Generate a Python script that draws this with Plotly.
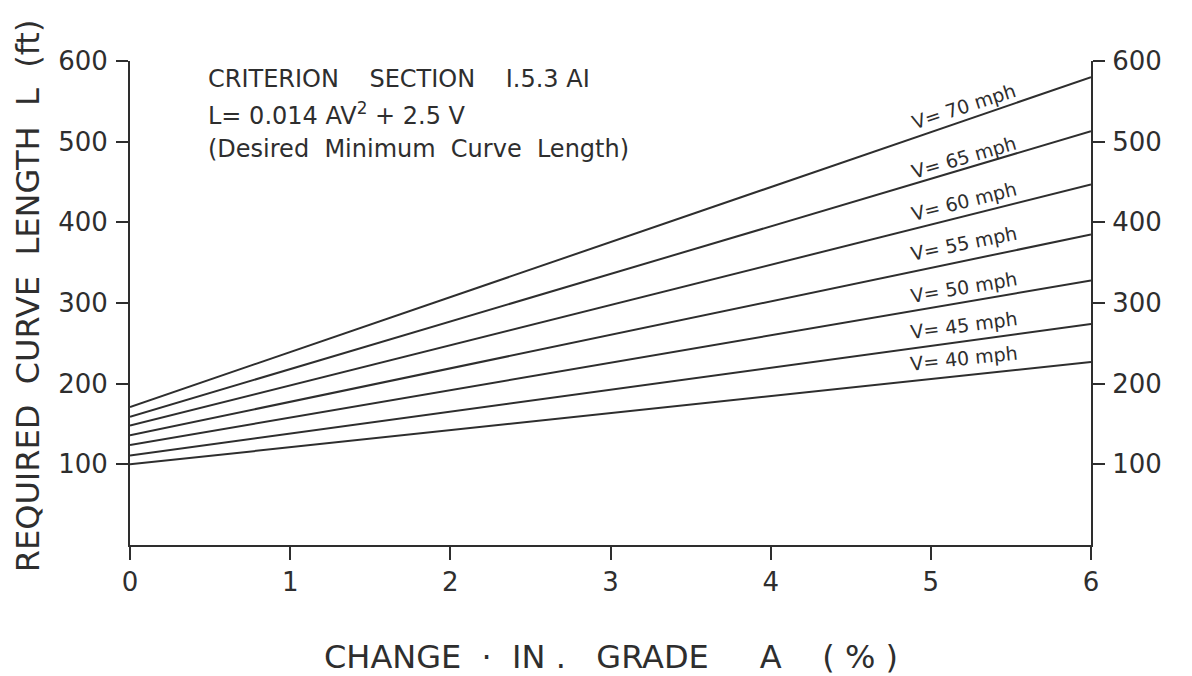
import plotly.graph_objects as go

# ---- data ----
grade_change = [0, 6]                       # A (%)
speeds = [70, 65, 60, 55, 50, 45, 40]       # V (mph)
length_at_0 = [171, 159, 148, 136, 124, 111, 100]   # L (ft) at A = 0
length_at_6 = [580, 513, 447, 385, 328, 274, 227]   # L (ft) at A = 6
label_texts = ["V= 70 mph", "V= 65 mph", "V= 60 mph", "V= 55 mph",
               "V= 50 mph", "V= 45 mph", "V= 40 mph"]
y_ticks = [100, 200, 300, 400, 500, 600]
x_ticks = [0, 1, 2, 3, 4, 5, 6]

INK = "#2e2e2e"
FONT = "DejaVu Sans"

fig = go.Figure()
for v, l0, l6 in zip(speeds, length_at_0, length_at_6):
    fig.add_trace(go.Scatter(
        x=grade_change, y=[l0, l6], mode="lines",
        line=dict(color=INK, width=2), name=f"V={v} mph",
        showlegend=False, hoverinfo="skip"))

# invisible trace to activate right axis
fig.add_trace(go.Scatter(x=grade_change, y=[length_at_0[-1], length_at_6[-1]],
                         yaxis="y2", mode="lines", line=dict(width=0),
                         showlegend=False, hoverinfo="skip", opacity=0))

# line labels (placed along each line near A≈5.2)
label_pos = [544, 481, 427, 374, 320, 273, 232]
label_ang = [-18, -16, -14, -11.5, -9.5, -7.5, -6]
for txt, yv, ang in zip(label_texts, label_pos, label_ang):
    fig.add_annotation(x=5.21, y=yv, xref="x", yref="y", text=txt,
                       textangle=ang, showarrow=False,
                       font=dict(family=FONT, size=19, color=INK))

# criterion text block
for txt, ys in [("CRITERION    SECTION    I.5.3 AI", -18),
                ("L= 0.014 AV<sup>2</sup> + 2.5 V", -53),
                ("(Desired  Minimum  Curve  Length)", -88)]:
    fig.add_annotation(x=0, y=1, xref="paper", yref="paper", xanchor="left",
                       yanchor="middle", xshift=76, yshift=ys, text=txt,
                       showarrow=False,
                       font=dict(family=FONT, size=24, color=INK))

# axis titles
fig.add_annotation(x=0, y=0.514, xref="paper", yref="paper", xshift=-102,
                   text="REQUIRED  CURVE  LENGTH  L  (ft)", textangle=-90,
                   showarrow=False, xanchor="center", yanchor="middle",
                   font=dict(family=FONT, size=32, color=INK))
fig.add_annotation(x=0, y=0, xref="paper", yref="paper", xshift=481, yshift=-112,
                   text="CHANGE  ·  IN .   GRADE     A    ( % )",
                   showarrow=False, xanchor="center", yanchor="middle",
                   font=dict(family=FONT, size=32, color=INK))

axis_common = dict(showgrid=False, zeroline=False, showline=True,
                   linecolor=INK, linewidth=2, ticks="outside",
                   tickcolor=INK, tickwidth=2,
                   tickfont=dict(family=FONT, size=26, color=INK))

# page body has an 8px margin, so the figure is 8px smaller each way
fig.update_layout(
    width=1184, height=668,
    margin=dict(l=122, r=101, t=53, b=131),
    paper_bgcolor="white", plot_bgcolor="white",
    xaxis=dict(range=[0, 6], tickvals=x_ticks, ticklen=13,
               ticklabelstandoff=0, **axis_common),
    yaxis=dict(range=[0, 600], tickvals=y_ticks, ticklen=12,
               ticklabelstandoff=3, **axis_common),
    yaxis2=dict(range=[0, 600], tickvals=y_ticks, ticklen=12, side="right",
                overlaying="y", ticklabelstandoff=2, **axis_common),
)

fig.write_html("out.html")
